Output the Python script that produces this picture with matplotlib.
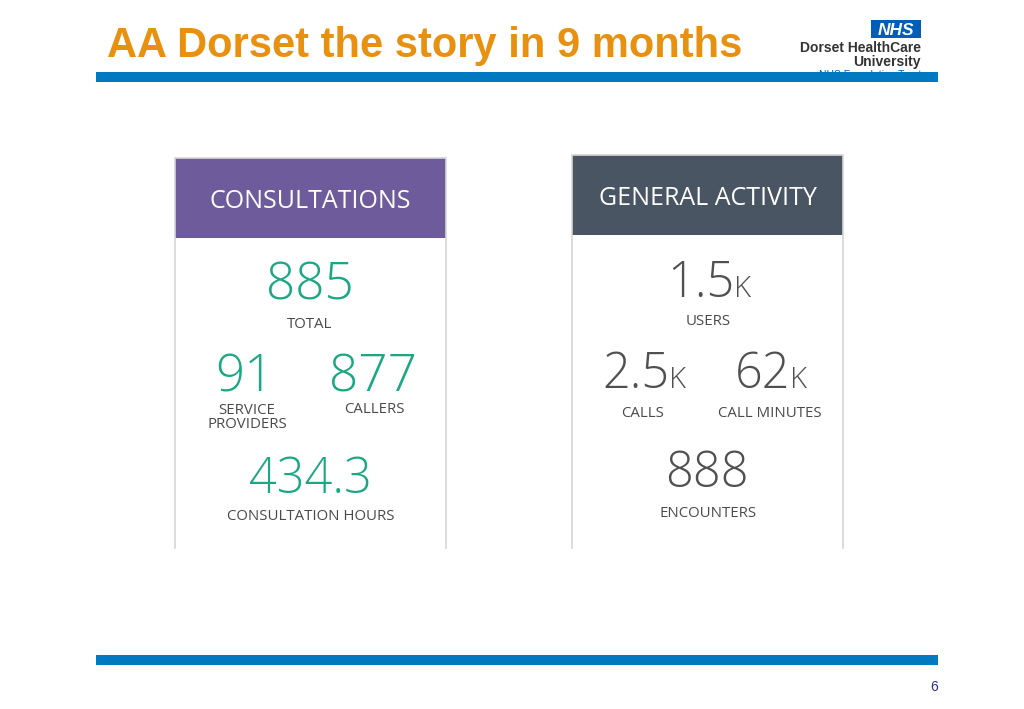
import matplotlib.pyplot as plt
from matplotlib.patches import Rectangle

# slide text
slide_title = "AA Dorset the story in 9 months"
page_no = "6"

# card 1: consultations
c1_title = "CONSULTATIONS"
c1_values = ["885", "91", "877", "434.3"]
c1_suffix = ["", "", "", ""]
c1_labels = ["TOTAL", "SERVICE\nPROVIDERS", "CALLERS", "CONSULTATION HOURS"]

# card 2: general activity
c2_title = "GENERAL ACTIVITY"
c2_values = ["1.5", "2.5", "62", "888"]
c2_suffix = ["K", "K", "K", ""]
c2_labels = ["USERS", "CALLS", "CALL MINUTES", "ENCOUNTERS"]

FONT = "Open Sans"
W, H = 1024, 709

fig = plt.figure(figsize=(W / 100, H / 100), dpi=100)
ax = fig.add_axes([0, 0, 1, 1])
ax.set_xlim(0, W)
ax.set_ylim(H, 0)
ax.axis("off")
renderer = fig.canvas.get_renderer()

# title + bars
ax.text(107, 57, slide_title, color="#E8900F", fontsize=30, fontweight="bold",
        family="Liberation Sans", va="baseline", ha="left")
ax.add_patch(Rectangle((96, 72), 842, 10, color="#0079C1", lw=0))
ax.add_patch(Rectangle((96, 655), 842, 10, color="#0079C1", lw=0))
ax.text(934, 691, page_no, color="#2E2E8A", fontsize=10, family="Liberation Sans",
        ha="center", va="baseline")

# NHS logo
ax.add_patch(Rectangle((871, 20), 50, 18, color="#005EB8", lw=0))
ax.text(896, 35, "NHS", color="white", fontsize=12.5, fontweight="bold", style="italic",
        family="Liberation Sans", ha="center", va="baseline")
ax.text(921, 52, "Dorset HealthCare", color="#333333", fontsize=10, fontweight="bold",
        family="Liberation Sans", ha="right", va="baseline")
ax.text(921, 66, "University", color="#333333", fontsize=10, fontweight="bold",
        family="Liberation Sans", ha="right", va="baseline")
ax.text(921, 78, "NHS Foundation Trust", color="#005EB8", fontsize=7.5,
        family="Liberation Sans", ha="right", va="baseline", zorder=0)


def value_text(x, y, num, suf, size, color):
    # big number with a smaller suffix, centred as a group on x
    t1 = ax.text(0, y, num, fontsize=size, color=color, family=FONT,
                 fontweight="light", ha="left", va="baseline")
    w1 = t1.get_window_extent(renderer).width
    w2 = 0
    if suf:
        t2 = ax.text(0, y, suf, fontsize=size * 0.6, color=color, family=FONT,
                     fontweight="light", ha="left", va="baseline")
        w2 = t2.get_window_extent(renderer).width
    x0 = x - (w1 + w2) / 2
    t1.set_x(x0)
    if suf:
        t2.set_x(x0 + w1)


def card(x0, top, x1, head_h, title, head_col, values, suffix, labels,
         val_pos, lab_pos, val_sizes, val_col, title_base):
    ax.plot([x0, x0, x1, x1], [548, top, top, 548], color="#D6D6D6", lw=1.2)
    ax.add_patch(Rectangle((x0, top), x1 - x0, head_h, color=head_col, lw=0))
    ax.text((x0 + x1) / 2, title_base, title, color="white", fontsize=18,
            family=FONT, ha="center", va="baseline")
    for v, s, (vx, vy), fs in zip(values, suffix, val_pos, val_sizes):
        value_text(vx, vy, v, s, fs, val_col)
    for lab, (lx, ly) in zip(labels, lab_pos):
        ax.text(lx, ly, lab, color="#4A4A4A", fontsize=10.8, family=FONT,
                ha="center", va="baseline", linespacing=0.95)


card(175, 158, 446, 80, c1_title, "#6E5B9B", c1_values, c1_suffix, c1_labels,
     [(310, 300), (245, 391), (373, 391), (310, 493)],
     [(310, 328), (247, 428), (374, 413), (311, 520)],
     [37, 37, 37, 35], "#1AA784", 208)

card(572, 155, 843, 80, c2_title, "#4A5563", c2_values, c2_suffix, c2_labels,
     [(709, 297), (644, 388), (771, 388), (707, 487)],
     [(708, 325), (643, 417), (770, 417), (708, 517)],
     [35, 35, 35, 35], "#505050", 205)

fig.savefig("out.png", dpi=100, facecolor="white")
